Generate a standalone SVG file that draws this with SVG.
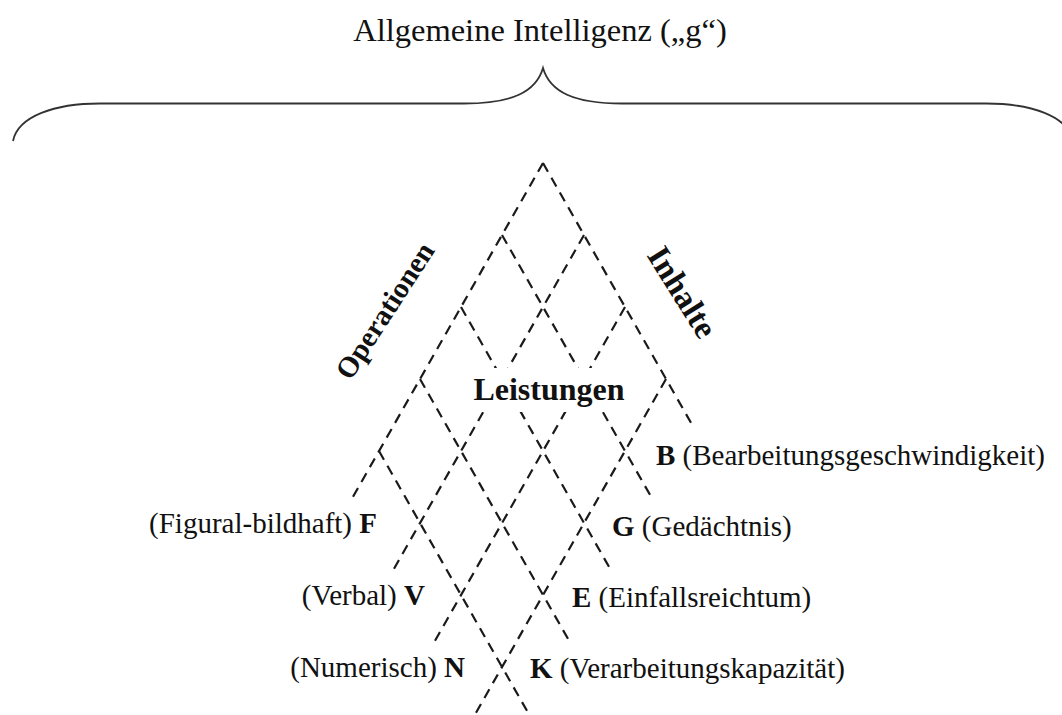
<svg xmlns="http://www.w3.org/2000/svg" width="1062" height="715" viewBox="0 0 1062 715">
  <style>
    .txt { font-family: "Liberation Serif", "Times New Roman", serif; fill: #111; }
    .lbl { font-size: 29px; }
    .b { font-weight: bold; }
    .grid line { stroke: #1a1a1a; stroke-width: 2.2; stroke-dasharray: 10 7; fill: none; }
    .brace { fill: none; stroke: #333; stroke-width: 1.8; }
  </style>
  <rect width="1062" height="715" fill="#fff"/>

  <!-- heading and curly brace -->
  <g id="title">
    <text class="txt" x="540" y="41" font-size="32.5" text-anchor="middle">Allgemeine Intelligenz („g“)</text>
  </g>
  <g id="brace">
    <path class="brace" d="M13,141 C18,116 55,103.5 100,103.5 L464,103.5 C512,103.5 536,92 543,68 C550,92 574,103.5 622,103.5 L986,103.5 C1031,103.5 1068,116 1073,141"/>
  </g>

  <!-- dashed lattice: 4 rising lines, 5 falling lines -->
  <g id="connectors" class="grid">
    <line x1="543" y1="163" x2="352.4" y2="497.8"/>
    <line x1="584" y1="235" x2="393.4" y2="569.8"/>
    <line x1="625" y1="307" x2="434.4" y2="641.8"/>
    <line x1="666" y1="379" x2="475.4" y2="713.8"/>
    <line x1="543" y1="163" x2="692.7" y2="425.8"/>
    <line x1="502" y1="235" x2="651.7" y2="497.8"/>
    <line x1="461" y1="307" x2="610.7" y2="569.8"/>
    <line x1="420" y1="379" x2="569.7" y2="641.8"/>
    <line x1="379" y1="451" x2="528.7" y2="713.8"/>
  </g>

  <!-- axis captions -->
  <g id="operationen">
    <text class="txt b" font-size="29" text-anchor="middle" transform="translate(393,316) rotate(-57)">Operationen</text>
  </g>
  <g id="inhalte">
    <text class="txt b" font-size="33" text-anchor="middle" transform="translate(673,298) rotate(58)">Inhalte</text>
  </g>
  <g id="leistungen">
    <rect x="463" y="368" width="174" height="44" fill="#fff"/>
    <text class="txt b" x="549" y="400" font-size="32" text-anchor="middle">Leistungen</text>
  </g>

  <!-- operation labels -->
  <g id="node-B">
    <text class="txt lbl" x="656" y="465"><tspan class="b">B</tspan> (Bearbeitungsgeschwindigkeit)</text>
  </g>
  <g id="node-G">
    <text class="txt lbl" x="612" y="536"><tspan class="b">G</tspan> (Gedächtnis)</text>
  </g>
  <g id="node-E">
    <text class="txt lbl" x="572" y="607"><tspan class="b">E</tspan> (Einfallsreichtum)</text>
  </g>
  <g id="node-K">
    <text class="txt lbl" x="530" y="678"><tspan class="b">K</tspan> (Verarbeitungskapazität)</text>
  </g>

  <!-- content labels -->
  <g id="node-F">
    <text class="txt lbl" x="377" y="533" text-anchor="end">(Figural-bildhaft) <tspan class="b">F</tspan></text>
  </g>
  <g id="node-V">
    <text class="txt lbl" x="425" y="605" text-anchor="end">(Verbal) <tspan class="b">V</tspan></text>
  </g>
  <g id="node-N">
    <text class="txt lbl" x="465" y="677" text-anchor="end">(Numerisch) <tspan class="b">N</tspan></text>
  </g>
</svg>
